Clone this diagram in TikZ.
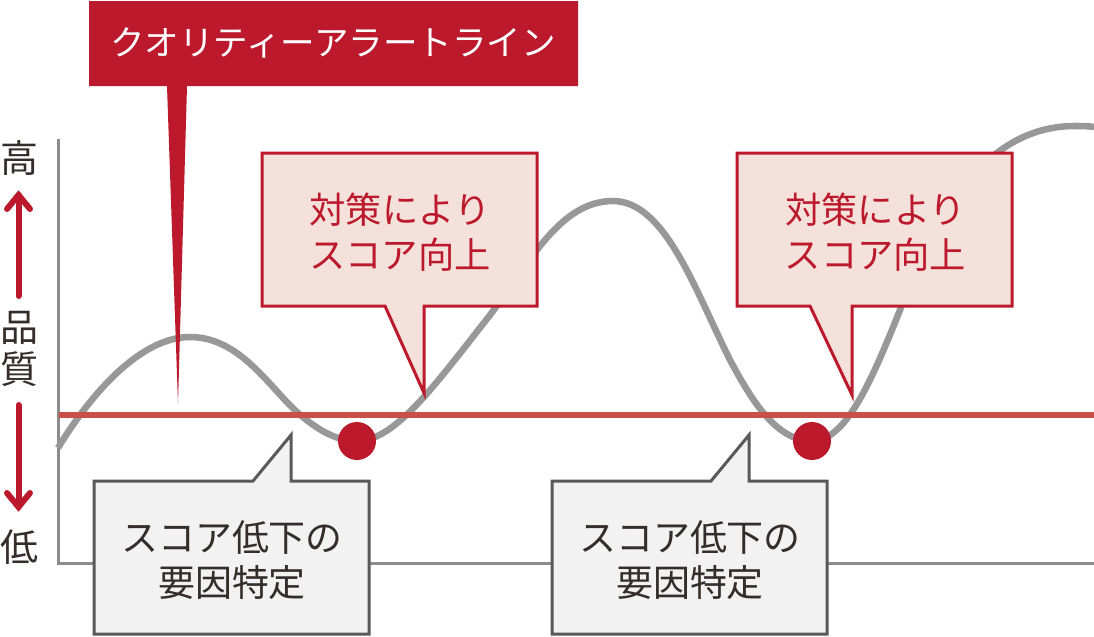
\documentclass[tikz,border=0pt]{standalone}
\usepackage{fontspec}
\setmainfont{Noto Sans CJK JP}
\definecolor{brandred}{HTML}{BC1A2C}
\definecolor{alertline}{HTML}{C85048}
\definecolor{curvegray}{HTML}{989898}
\definecolor{axisgray}{HTML}{8C8C8C}
\definecolor{pinkfill}{HTML}{F5E1DB}
\definecolor{grayfill}{HTML}{F2F2F2}
\definecolor{grayedge}{HTML}{595959}
\definecolor{inkdark}{HTML}{352D2B}
\tikzset{
  x=0.75pt,y=-0.75pt,
  axisline/.style={draw=axisgray,line width=2.25pt,line join=miter},
  curveline/.style={draw=curvegray,line width=4.9pt},
  alert/.style={draw=alertline,line width=4.5pt},
  redcall/.style={draw=brandred,fill=pinkfill,line width=2.25pt,line join=miter,miter limit=20},
  graycall/.style={draw=grayedge,fill=grayfill,line width=2.25pt,line join=miter,miter limit=20},
  calltext/.style={align=center,inner sep=0pt,font=\fontsize{27.7pt}{33.7pt}\selectfont},
  redtext/.style={align=center,inner sep=0pt,text=brandred,font=\fontsize{27.2pt}{33.7pt}\selectfont},
  axistext/.style={inner sep=0pt,text=inkdark,font=\fontsize{28.5pt}{30pt}\selectfont},
  qarrow/.style={draw=brandred,line width=4.5pt,line cap=round,line join=miter},
  dot/.style={circle,fill=brandred,minimum size=28.5pt,inner sep=0pt},
}
\begin{document}
\begin{tikzpicture}
\useasboundingbox (0,0) rectangle (1094,636);
% axes
\coordinate (axtop) at (58,139);
\coordinate (axorigin) at (58,563);
\coordinate (axend) at (1094,563);
\draw[axisline] (axtop) -- (axorigin) -- (axend);
% curve
\draw[curveline] (58,448)
  .. controls (90,395) and (140,337) .. (190,337)
  .. controls (240,337) and (270,388) .. (297,412)
  .. controls (315,428) and (335,441) .. (357,441)
  .. controls (395,441) and (435,385) .. (490,315)
  .. controls (530,262) and (560,201) .. (613,201)
  .. controls (665,201) and (695,290) .. (730,360)
  .. controls (750,397) and (775,441) .. (812,441)
  .. controls (845,441) and (870,385) .. (900,310)
  .. controls (935,215) and (985,126) .. (1075,126)
  .. controls (1082,126) and (1088,126) .. (1094,127);
% alert line
\coordinate (alertl) at (59,414.5);
\coordinate (alertr) at (1094,414.5);
\draw[alert] (alertl) -- (alertr);
% dots
\node[dot] (dota) at (357,441) {};
\node[dot] (dotb) at (812,441) {};
% title flag
\fill[brandred] (89,1) -- (578,1) -- (578,86) -- (187,86) -- (178,404) -- (167,86) -- (89,86) -- cycle;
\node[inner sep=0pt,text=white,font=\fontsize{25.9pt}{30pt}\selectfont] (title) at (333,43) {クオリティーアラートライン};
% red callouts
\draw[redcall] (262,153) -- (537,153) -- (537,306) -- (424,306) -- (424,393) -- (385,306) -- (262,306) -- cycle;
\node[redtext] (calla) at (400,232) {対策により\\スコア向上};
\draw[redcall] (737,153) -- (1012,153) -- (1012,306) -- (852,306) -- (852,395) -- (810,306) -- (737,306) -- cycle;
\node[redtext] (callb) at (875.5,232) {対策により\\スコア向上};
% gray callouts
\draw[graycall] (94,481) -- (253,481) -- (291,435) -- (291,481) -- (369,481) -- (369,634) -- (94,634) -- cycle;
\node[calltext,text=inkdark] (callc) at (232,560) {スコア低下の\\要因特定};
\draw[graycall] (552,481) -- (711,481) -- (749,435) -- (749,481) -- (827,481) -- (827,634) -- (552,634) -- cycle;
\node[calltext,text=inkdark] (calld) at (690,560) {スコア低下の\\要因特定};
% axis labels
\node[axistext] (high) at (19,158) {高};
\node[axistext] (qa) at (19,328) {品};
\node[axistext] (qb) at (19,369) {質};
\node[axistext] (low) at (19,547) {低};
% arrows
\coordinate (uptail) at (18.5,296);
\coordinate (uptip) at (18.5,195);
\coordinate (downtail) at (18.5,405);
\coordinate (downtip) at (18.5,507);
\draw[qarrow] (uptail) -- (uptip);
\draw[qarrow] (7,209) -- (uptip) -- (30,209);
\draw[qarrow] (downtail) -- (downtip);
\draw[qarrow] (7,493) -- (downtip) -- (30,493);
\end{tikzpicture}
\end{document}
